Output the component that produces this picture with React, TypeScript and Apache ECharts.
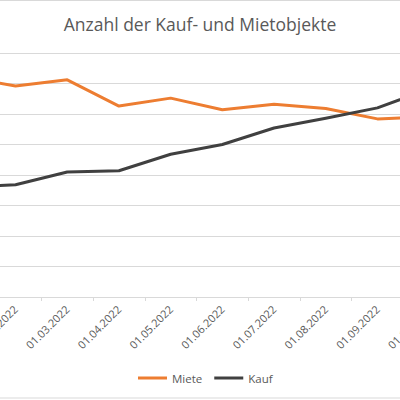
import React, { useEffect, useRef } from "react";
import * as echarts from "echarts";

const categories = [
  "01.01.2022",
  "01.02.2022",
  "01.03.2022",
  "01.04.2022",
  "01.05.2022",
  "01.06.2022",
  "01.07.2022",
  "01.08.2022",
  "01.09.2022",
  "01.10.2022",
];
const miete = [361, 346, 356, 313, 326, 307, 316, 309, 292, 295];
const kauf = [180, 184, 205, 207, 234, 250, 277, 293, 310, 341];
const titleText = "Anzahl der Kauf- und Mietobjekte";
const seriesNames = ["Miete", "Kauf"];

const FONT = "'Open Sans', 'Noto Sans', sans-serif";
const TEXT = "#595959";
const GRID = "#D9D9D9";

export default function App() {
  const ref = useRef<HTMLDivElement>(null);
  useEffect(() => {
    if (!ref.current) return;
    const chart = echarts.init(ref.current, null, { renderer: "svg" });
    chart.setOption({
      animation: false,
      backgroundColor: "#ffffff",
      title: {
        text: titleText,
        left: "center",
        top: 15,
        padding: 0,
        textStyle: {
          fontFamily: FONT,
          fontSize: 17.5,
          fontWeight: "normal",
          color: TEXT,
        },
      },
      legend: {
        data: seriesNames,
        left: 238,
        top: 372,
        padding: 0,
        icon: "rect",
        itemWidth: 29,
        itemHeight: 3,
        itemGap: 12,
        textStyle: { fontFamily: FONT, fontSize: 11.5, color: TEXT },
      },
      graphic: [
        {
          type: "rect",
          shape: { x: -10, y: 0.5, width: 620, height: 397.5 },
          style: { fill: "none", stroke: GRID, lineWidth: 1 },
          silent: true,
        },
      ],
      grid: { left: 38, right: 45, top: 53, bottom: 103 },
      xAxis: {
        type: "category",
        data: categories,
        boundaryGap: true,
        axisLine: { lineStyle: { color: GRID, width: 1 } },
        axisTick: { show: true, length: 4, lineStyle: { color: GRID } },
        axisLabel: {
          rotate: 45,
          margin: 10,
          fontFamily: FONT,
          fontSize: 11,
          color: TEXT,
          interval: 0,
        },
        splitLine: { show: false },
      },
      yAxis: {
        type: "value",
        min: 0,
        max: 400,
        interval: 50,
        axisLine: { show: false },
        axisTick: { show: false },
        axisLabel: { show: false },
        splitLine: { lineStyle: { color: GRID, width: 1 } },
      },
      series: [
        {
          name: seriesNames[0],
          type: "line",
          data: miete,
          symbol: "none",
          lineStyle: { color: "#ED7D31", width: 3, cap: "round", join: "round" },
          itemStyle: { color: "#ED7D31" },
        },
        {
          name: seriesNames[1],
          type: "line",
          data: kauf,
          symbol: "none",
          lineStyle: { color: "#404040", width: 3, cap: "round", join: "round" },
          itemStyle: { color: "#404040" },
        },
      ],
    });
    return () => chart.dispose();
  }, []);
  return (
    <div
      style={{
        position: "fixed",
        left: 0,
        top: 0,
        width: 400,
        height: 400,
        overflow: "hidden",
        background: "#ffffff",
      }}
    >
      <div
        ref={ref}
        style={{ position: "absolute", left: -100, top: 0, width: 600, height: 400 }}
      />
    </div>
  );
}
